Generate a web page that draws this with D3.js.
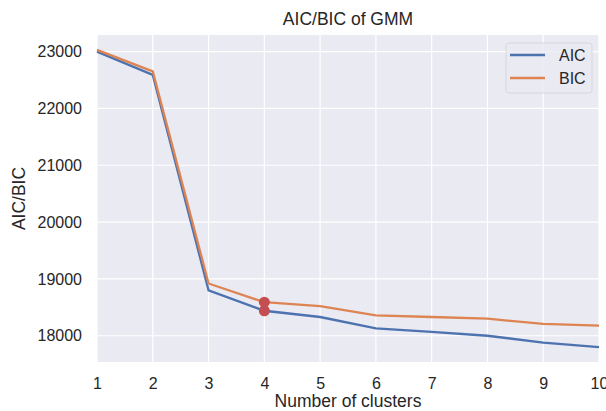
<!DOCTYPE html>
<html>
<head>
<meta charset="utf-8">
<script src="https://cdn.jsdelivr.net/npm/d3@7"></script>
<style>
  body { margin: 0; background: #fff; }
  svg { display: block; font-family: "Liberation Sans", Arial, sans-serif; }
</style>
</head>
<body>
<div id="chart"></div>
<script>
const clusters = [1, 2, 3, 4, 5, 6, 7, 8, 9, 10];
const aic = [23000, 22590, 18800, 18440, 18330, 18130, 18070, 18000, 17880, 17800];
const bic = [23030, 22650, 18920, 18590, 18520, 18360, 18330, 18300, 18210, 18180];
const best = 4;
const xTicks = [1, 2, 3, 4, 5, 6, 7, 8, 9, 10];
const yTicks = [18000, 19000, 20000, 21000, 22000, 23000];

const width = 606, height = 411;
const margin = {top: 35, right: 7, bottom: 49, left: 97};

const colors = {AIC: '#4c72b0', BIC: '#dd8452', best: '#c44e52'};

const series = [
  {name: 'AIC', values: aic},
  {name: 'BIC', values: bic},
];

const x = d3.scaleLinear()
  .domain([1, 10])
  .range([margin.left, width - margin.right]);

const yMin = d3.min(aic.concat(bic)), yMax = d3.max(aic.concat(bic));
const pad = (yMax - yMin) * 0.05;
const y = d3.scaleLinear()
  .domain([yMin - pad, yMax + pad])
  .range([height - margin.bottom, margin.top]);

const svg = d3.select('#chart')
  .append('svg')
  .attr('width', width)
  .attr('height', height);

// Plot background.
svg.append('rect')
  .attr('x', margin.left)
  .attr('y', margin.top)
  .attr('width', width - margin.left - margin.right)
  .attr('height', height - margin.top - margin.bottom)
  .attr('fill', '#eaeaf2');

// Grid.
svg.append('g')
  .attr('stroke', 'white')
  .attr('stroke-width', 1.2)
  .call(g => g.selectAll('.vx')
    .data(xTicks)
    .join('line')
    .attr('x1', d => x(d)).attr('x2', d => x(d))
    .attr('y1', margin.top).attr('y2', height - margin.bottom))
  .call(g => g.selectAll('.hy')
    .data(yTicks)
    .join('line')
    .attr('x1', margin.left).attr('x2', width - margin.right)
    .attr('y1', d => y(d)).attr('y2', d => y(d)));

// Axes (labels only, seaborn darkgrid style).
svg.append('g')
  .attr('transform', `translate(0,${height - margin.bottom})`)
  .call(d3.axisBottom(x).tickValues(xTicks).tickSize(0).tickPadding(16).tickFormat(d3.format('d')))
  .call(g => g.select('.domain').remove())
  .call(g => g.selectAll('text').attr('fill', '#262626').style('font-size', '16px'));

svg.append('g')
  .attr('transform', `translate(${margin.left},0)`)
  .call(d3.axisLeft(y).tickValues(yTicks).tickSize(0).tickPadding(15).tickFormat(d3.format('d')))
  .call(g => g.select('.domain').remove())
  .call(g => g.selectAll('text').attr('fill', '#262626').style('font-size', '16px'));

// Lines.
const line = d3.line()
  .x((d, i) => x(clusters[i]))
  .y(d => y(d));

svg.append('g')
  .attr('fill', 'none')
  .attr('stroke-width', 2.3)
  .selectAll('path')
  .data(series)
  .join('path')
  .attr('stroke', d => colors[d.name])
  .attr('d', d => line(d.values));

// Best number of clusters.
const bi = clusters.indexOf(best);
svg.append('g')
  .attr('fill', colors.best)
  .selectAll('circle')
  .data(series)
  .join('circle')
  .attr('cx', x(best))
  .attr('cy', d => y(d.values[bi]))
  .attr('r', 5.5);

// Titles.
svg.append('text')
  .attr('x', (margin.left + width - margin.right) / 2)
  .attr('y', 25)
  .attr('text-anchor', 'middle')
  .attr('fill', '#262626')
  .style('font-size', '17.5px')
  .text('AIC/BIC of GMM');

svg.append('text')
  .attr('x', (margin.left + width - margin.right) / 2)
  .attr('y', 407)
  .attr('text-anchor', 'middle')
  .attr('fill', '#262626')
  .style('font-size', '17.5px')
  .text('Number of clusters');

svg.append('text')
  .attr('transform', `translate(25,${(margin.top + height - margin.bottom) / 2}) rotate(-90)`)
  .attr('text-anchor', 'middle')
  .attr('fill', '#262626')
  .style('font-size', '17.5px')
  .text('AIC/BIC');

// Legend.
const legend = svg.append('g')
  .attr('transform', 'translate(506,43)');

legend.append('rect')
  .attr('width', 86)
  .attr('height', 50)
  .attr('rx', 3)
  .attr('fill', '#eaeaf2')
  .attr('fill-opacity', 0.8)
  .attr('stroke', '#d6d6dc');

const item = legend.selectAll('.item')
  .data(series)
  .join('g')
  .attr('transform', (d, i) => `translate(0,${12 + i * 23})`);

item.append('line')
  .attr('x1', 4).attr('x2', 39)
  .attr('stroke', d => colors[d.name])
  .attr('stroke-width', 2.3);

item.append('text')
  .attr('x', 53)
  .attr('dy', '0.35em')
  .attr('fill', '#262626')
  .style('font-size', '16px')
  .text(d => d.name);
</script>
</body>
</html>
